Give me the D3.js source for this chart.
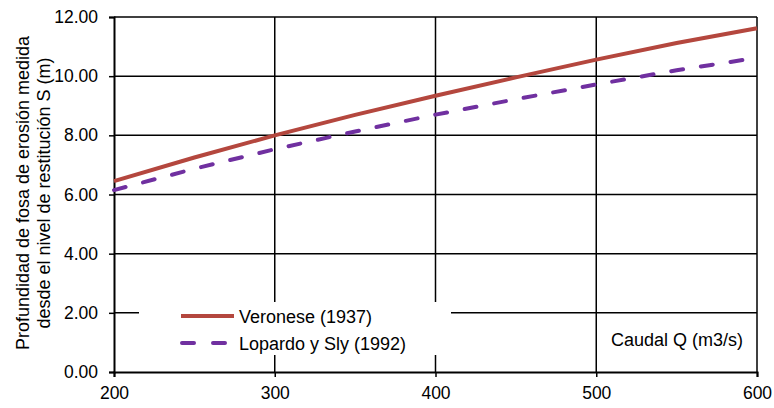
<!DOCTYPE html>
<html>
<head>
<meta charset="utf-8">
<script src="https://cdn.jsdelivr.net/npm/d3@7"></script>
<style>
  body { margin: 0; background: #fff; }
  svg { font-family: "Liberation Sans", Arial, sans-serif; }
</style>
</head>
<body>
<svg id="chart" width="774" height="408"></svg>
<script>
// data
var caudal = [200, 250, 300, 350, 400, 450, 500, 550, 600];
var veronese = [6.45, 7.25, 8.00, 8.69, 9.34, 9.96, 10.56, 11.12, 11.62];
var lopardo = [6.15, 6.87, 7.53, 8.13, 8.70, 9.22, 9.72, 10.20, 10.62];
var xTicks = [200, 300, 400, 500, 600];
var yTicks = [0, 2, 4, 6, 8, 10, 12];
var seriesNames = ["Veronese (1937)", "Lopardo y Sly (1992)"];

var plotLeft = 114, plotRight = 757, plotTop = 17, plotBottom = 372;

var svg = d3.select('#chart');
var x = d3.scaleLinear().domain([200, 600]).range([plotLeft, plotRight]);
var y = d3.scaleLinear().domain([0, 12]).range([plotBottom, plotTop]);

// horizontal gridlines
svg.append("g").selectAll("line")
    .data(yTicks.filter(function(d) { return d > 0; }))
    .enter().append("line")
        .attr("x1", plotLeft).attr("x2", plotRight)
        .attr("y1", function(d) { return y(d); })
        .attr("y2", function(d) { return y(d); })
        .attr("stroke", "#000").attr("stroke-width", 1.5);

// vertical gridlines
svg.append("g").selectAll("line")
    .data(xTicks.filter(function(d) { return d > 200; }))
    .enter().append("line")
        .attr("x1", function(d) { return x(d); })
        .attr("x2", function(d) { return x(d); })
        .attr("y1", plotTop).attr("y2", plotBottom)
        .attr("stroke", "#000").attr("stroke-width", 1.5);

// axes
var yAxis = svg.append("g")
    .attr("transform", "translate(" + plotLeft + ",0)")
    .call(d3.axisLeft(y).tickValues(yTicks).tickSize(5).tickPadding(11)
        .tickFormat(function(d) { return d3.format(".2f")(d); }));
var xAxis = svg.append("g")
    .attr("transform", "translate(0," + plotBottom + ")")
    .call(d3.axisBottom(x).tickValues(xTicks).tickSize(5).tickPadding(9.5));
[yAxis, xAxis].forEach(function(a) {
    a.select(".domain").attr("stroke", "#000").attr("stroke-width", 2);
    a.selectAll(".tick line").attr("stroke", "#000").attr("stroke-width", 1.5);
    a.selectAll("text").attr("font-size", 17.5).attr("fill", "#000")
        .attr("font-family", "Liberation Sans, Arial, sans-serif");
});

// legend box (white, covers gridlines)
svg.append("rect")
    .attr("x", 139).attr("y", 302).attr("width", 312).attr("height", 53)
    .attr("fill", "#fff");

// curves
var line = d3.line()
    .x(function(d) { return x(d[0]); })
    .y(function(d) { return y(d[1]); });

svg.append("path")
    .datum(d3.zip(caudal, veronese))
    .attr("fill", "none")
    .attr("stroke", "#b4473e")
    .attr("stroke-width", 4)
    .attr("d", line);

svg.append("path")
    .datum(d3.zip(caudal, lopardo))
    .attr("fill", "none")
    .attr("stroke", "#7030a0")
    .attr("stroke-width", 4)
    .attr("stroke-linecap", "round")
    .attr("stroke-dasharray", "12,18")
    .attr("d", line);

// legend entries
svg.append("line")
    .attr("x1", 181).attr("x2", 234).attr("y1", 316).attr("y2", 316)
    .attr("stroke", "#b4473e").attr("stroke-width", 4);
svg.append("line")
    .attr("x1", 182).attr("x2", 234).attr("y1", 343).attr("y2", 343)
    .attr("stroke", "#7030a0").attr("stroke-width", 4)
    .attr("stroke-linecap", "round").attr("stroke-dasharray", "12,19");
svg.append("text")
    .attr("x", 239).attr("y", 323).attr("font-size", 18)
    .text(seriesNames[0]);
svg.append("text")
    .attr("x", 239).attr("y", 350).attr("font-size", 18)
    .text(seriesNames[1]);

// x axis label inside plot
svg.append("text")
    .attr("x", 611).attr("y", 346).attr("font-size", 18)
    .text("Caudal Q (m3/s)");

// y axis title
var yTitle = svg.append("text")
    .attr("transform", "translate(29,193) rotate(-90)")
    .attr("text-anchor", "middle")
    .attr("font-size", 18);
yTitle.append("tspan").attr("x", 0).attr("dy", 0)
    .text("Profundidad de fosa de erosión medida");
yTitle.append("tspan").attr("x", 0).attr("dy", 21)
    .text("desde el nivel de restitución S (m)");
</script>
</body>
</html>
